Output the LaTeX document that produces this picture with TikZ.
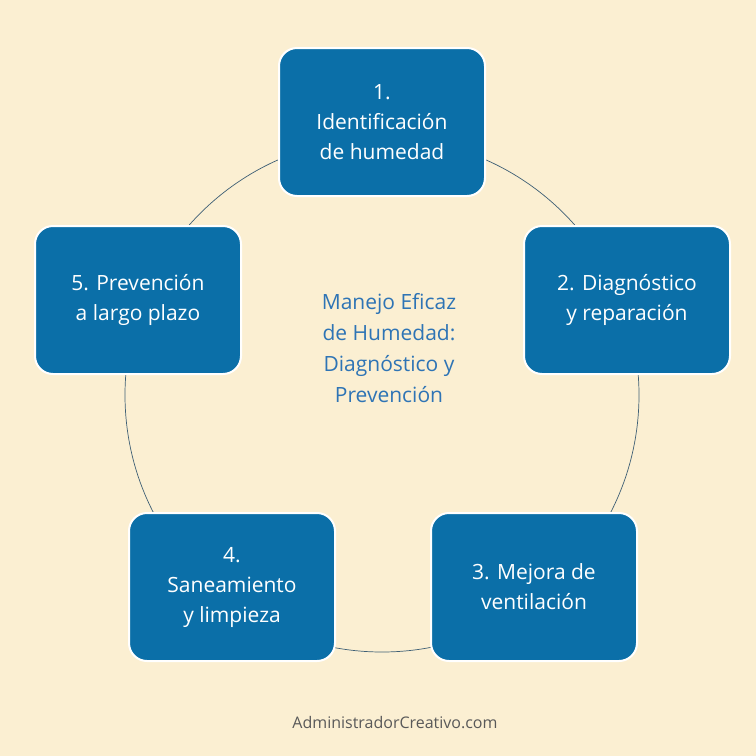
\documentclass[tikz,border=0pt]{standalone}
\usepackage{fontspec}
\setmainfont{Open Sans}
\definecolor{bg}{HTML}{FBEFD2}
\definecolor{boxc}{HTML}{0B6FA8}
\definecolor{ring}{HTML}{3E5F75}
\definecolor{ctext}{HTML}{2E74B5}
\definecolor{foot}{HTML}{595959}
\begin{document}
\begin{tikzpicture}[x=1pt,y=-1pt,
  stepbox/.style={draw=white,line width=2pt,fill=boxc,rounded corners=18pt,minimum width=206pt,minimum height=148pt,text=white,align=center,font=\fontsize{21}{30}\selectfont,inner sep=4pt}]
\fill[bg] (0,0) rectangle (756,756);
\useasboundingbox (0,0) rectangle (756,756);
\coordinate (c) at (382,395);
\draw[ring,line width=0.7pt] (c) circle[radius=257];
\node[stepbox] (b1) at (382,122) {1.\\Identificación\\de humedad};
\node[stepbox] (b2) at (627,300) {2. Diagnóstico\\y reparación};
\node[stepbox] (b3) at (534,587) {3. Mejora de\\ventilación};
\node[stepbox] (b4) at (232,587) {4.\\Saneamiento\\y limpieza};
\node[stepbox] (b5) at (138,300) {5. Prevención\\a largo plazo};
\node[text=ctext,align=center,font=\fontsize{21}{31}\selectfont] (t) at (389,348) {Manejo Eficaz\\de Humedad:\\Diagnóstico y\\Prevención};
\node[text=foot,font=\fontsize{16}{20}\selectfont] (f) at (395,723) {AdministradorCreativo.com};
\end{tikzpicture}
\end{document}
